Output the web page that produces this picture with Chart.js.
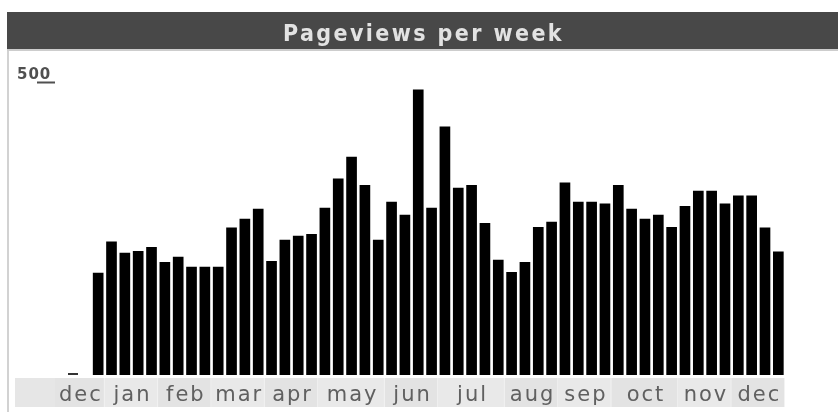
<!DOCTYPE html>
<html>
<head>
<meta charset="utf-8">
<script src="https://cdn.jsdelivr.net/npm/chart.js@4/dist/chart.umd.min.js"></script>
<style>
  html, body { margin: 0; padding: 0; background: #fff; }
  #wrap { width: 838px; height: 412px; }
</style>
</head>
<body>
<div id="wrap"><canvas id="pv" width="838" height="412"></canvas></div>
<script>
// weekly pageviews
const pageviews = [
  175,
  228, 209, 212, 219,
  193, 202, 185, 185,
  185, 252, 267, 284,
  195, 231, 238, 241,
  286, 336, 373, 325, 231,
  296, 274, 488, 286,
  425, 320, 325, 260, 197,
  176, 193, 253, 262,
  329, 296, 296, 293,
  325, 284, 267, 274, 253,
  289, 315, 315, 293,
  307, 307, 252, 211
];
const monthNames = ['dec', 'jan', 'feb', 'mar', 'apr', 'may', 'jun', 'jul', 'aug', 'sep', 'oct', 'nov', 'dec'];
const monthWeeks = [1, 4, 4, 4, 4, 5, 4, 5, 4, 4, 5, 4, 4];
const yTicks = [0, 500];
const title = 'Pageviews per week';

// one category label per week (month it falls in)
const weekLabels = [];
monthNames.forEach((m, i) => {
  for (let k = 0; k < monthWeeks[i]; k++) weekLabels.push(m);
});

const frame = {
  id: 'frame',
  beforeDraw(chart) {
    const c = chart.ctx;
    const x = chart.scales.x;
    const W = chart.width;
    c.save();
    c.fillStyle = '#fff';
    c.fillRect(0, 0, W, chart.height);

    // title bar
    c.fillStyle = '#484848';
    c.fillRect(7, 12, W - 7, 37);
    c.fillStyle = '#cdcdcd';
    c.fillRect(7, 49, W - 7, 2);
    c.fillStyle = '#e2e2e2';
    c.font = 'bold 23px "DejaVu Sans Condensed"';
    c.letterSpacing = '2.4px';
    c.textAlign = 'center';
    c.textBaseline = 'alphabetic';
    c.fillText(title, (7 + W) / 2 + 1, 41);

    // left border
    c.fillStyle = '#d2d2d2';
    c.fillRect(7, 51, 2, chart.height - 51);

    // month strip
    const pitch = x.getPixelForValue(1) - x.getPixelForValue(0);
    const top = chart.chartArea.bottom + 3;
    const h = 29;
    c.fillStyle = '#e6e6e6';
    c.fillRect(15, top, x.getPixelForValue(pageviews.length - 1) + pitch / 2 - 15, h);

    c.font = '21px "DejaVu Sans"';
    c.letterSpacing = '2px';
    let start = 0;
    monthNames.forEach((m, i) => {
      let left = x.getPixelForValue(start) - pitch / 2;
      const right = x.getPixelForValue(start + monthWeeks[i] - 1) + pitch / 2;
      const tw = c.measureText(m).width;
      let tx = (left + right) / 2;
      if (tw > right - left) {
        tx = right - 3 - tw / 2;
        left = Math.min(left, tx - tw / 2 - 3);
      }
      c.fillStyle = i % 2 ? '#e9e9e9' : '#e3e3e3';
      c.fillRect(left, top, right - left, h);
      c.fillStyle = '#f3f3f3';
      c.fillRect(right - 1, top, 1, h);
      c.fillStyle = '#606060';
      c.fillText(m, tx + 1, top + 23);
      start += monthWeeks[i];
    });
    c.restore();
  },
  afterDraw(chart) {
    const c = chart.ctx;
    const y = chart.scales.y;
    c.save();
    c.fillStyle = '#505050';
    c.font = 'bold 15px "DejaVu Sans"';
    c.letterSpacing = '1px';
    c.textAlign = 'left';
    const yTop = y.getPixelForValue(yTicks[1]);
    c.fillText(String(yTicks[1]), 17, yTop - 4);
    c.fillRect(37, yTop - 1, 18, 2);
    const y0 = y.getPixelForValue(yTicks[0]);
    c.fillStyle = '#333';
    c.fillRect(68, y0 - 2, 10, 2);
    c.restore();
  }
};

new Chart(document.getElementById('pv'), {
  type: 'bar',
  data: {
    labels: weekLabels,
    datasets: [{
      data: pageviews,
      backgroundColor: '#000',
      borderWidth: 0,
      barPercentage: 0.8,
      categoryPercentage: 1
    }]
  },
  options: {
    responsive: false,
    animation: false,
    layout: { padding: { left: 91.5, right: 53, top: 82.5, bottom: 37 } },
    plugins: { legend: { display: false }, tooltip: { enabled: false }, title: { display: false } },
    scales: {
      x: { display: false },
      y: { display: false, min: yTicks[0], max: yTicks[1] }
    }
  },
  plugins: [frame]
});
</script>
</body>
</html>
